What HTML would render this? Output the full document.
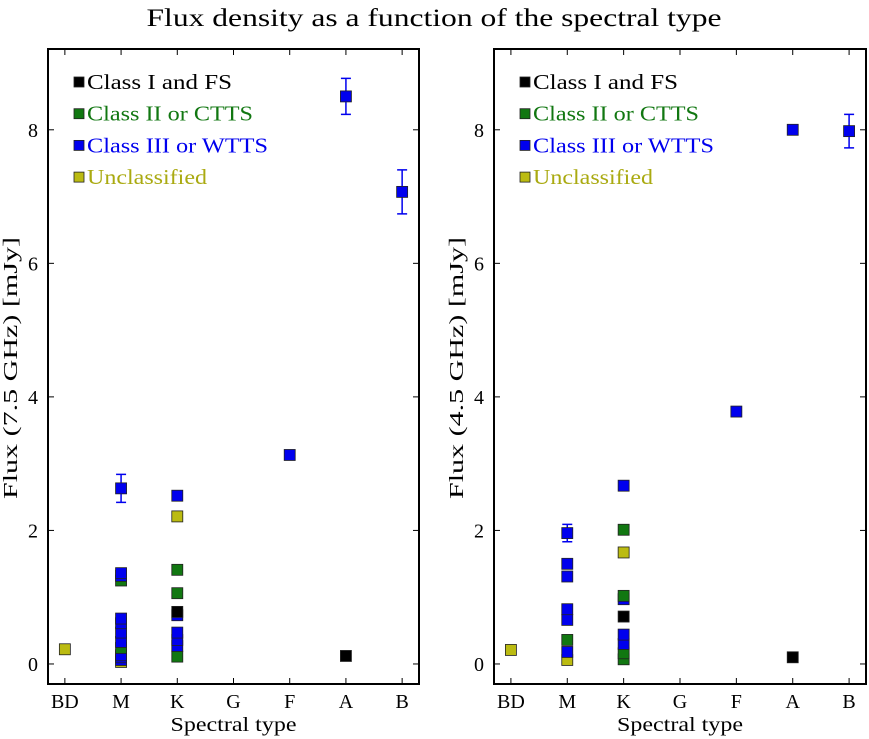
<!DOCTYPE html>
<html><head><meta charset="utf-8"><style>
body{margin:0;background:#fff;}
svg{display:block;font-family:"Liberation Serif",serif;}
</style></head><body>
<svg id="c" width="869" height="739" xmlns="http://www.w3.org/2000/svg">
<text x="434" y="26" font-size="25" text-anchor="middle" textLength="575" lengthAdjust="spacingAndGlyphs">Flux density as a function of the spectral type</text>
</svg>
<script>
const categories = ["BD","M","K","G","F","A","B"];
const yTicks = [0,2,4,6,8];
const classNames = ["Class I and FS","Class II or CTTS","Class III or WTTS","Unclassified"];
const classColors = ["#000000","#117711","#0000ee","#bbbb11"];
// points: [categoryIndex, value, classIndex, error]
const left7 = [
 [0,0.22,3,0],
 [1,0.03,3,0],[1,0.06,2,0],[1,0.10,2,0],[1,0.13,2,0],[1,0.24,1,0],[1,0.33,2,0],[1,0.47,2,0],[1,0.61,2,0],[1,0.68,2,0],
 [1,1.25,1,0],[1,1.32,2,0],[1,1.36,2,0],[1,2.63,2,0.21],
 [2,0.11,1,0],[2,0.27,2,0],[2,0.36,2,0],[2,0.47,2,0],[2,0.73,2,0],[2,0.78,0,0],[2,1.06,1,0],[2,1.41,1,0],[2,2.21,3,0],[2,2.52,2,0],
 [4,3.13,2,0],[5,0.12,0,0],[5,8.5,2,0.27],[6,7.07,2,0.33]
];
const right45 = [
 [0,0.21,3,0],
 [1,0.06,3,0],[1,0.18,2,0],[1,0.36,1,0],[1,0.66,2,0],[1,0.82,2,0],[1,1.31,2,0],[1,1.50,2,0],[1,1.96,2,0.13],
 [2,0.07,1,0],[2,0.16,1,0],[2,0.30,2,0],[2,0.44,2,0],[2,0.71,0,0],[2,0.97,2,0],[2,1.02,1,0],[2,1.67,3,0],[2,2.01,1,0],[2,2.67,2,0],
 [4,3.78,2,0],[5,0.10,0,0],[5,8.0,2,0.06],[6,7.98,2,0.25]
];
const legendLengths = [145,166,181,120];
const svg=document.getElementById('c');
const NS="http://www.w3.org/2000/svg";
function mk(tag,attrs,parent){const e=document.createElementNS(NS,tag);for(const k in attrs)e.setAttribute(k,attrs[k]);(parent||svg).appendChild(e);return e;}
function panel(x0,x1,data,ylabel,pname){
  const y0=49,y1=684;
  const g=mk('g',{});
  
  
  const xs=v=>x0+(v+0.3)/6.6*(x1-x0);
  const ys=v=>y1-(v+0.3)/9.51*(y1-y0);
  categories.forEach((c,i)=>{
    const X=xs(i);
    mk('line',{x1:X,x2:X,y1:y1,y2:y1-6,stroke:'#000','stroke-width':1},g);
    mk('line',{x1:X,x2:X,y1:y0,y2:y0+6,stroke:'#000','stroke-width':1},g);
    const t=mk('text',{x:X,y:708,'font-size':20,'text-anchor':'middle'},g);t.textContent=c;
    
    
  });
  yTicks.forEach(v=>{
    const Y=ys(v);
    mk('line',{x1:x0,x2:x0+6,y1:Y,y2:Y,stroke:'#000','stroke-width':1},g);
    mk('line',{x1:x1,x2:x1-6,y1:Y,y2:Y,stroke:'#000','stroke-width':1},g);
    const t=mk('text',{x:x0-10,y:Y+7,'font-size':20,'text-anchor':'end'},g);t.textContent=v;
    
    
  });
  const xl=mk('text',{x:(x0+x1)/2,y:731,'font-size':20,'text-anchor':'middle',textLength:126,lengthAdjust:'spacingAndGlyphs'},g);xl.textContent='Spectral type';
  
  
  const yl=mk('text',{x:0,y:0,'font-size':20,'text-anchor':'middle',textLength:262,lengthAdjust:'spacingAndGlyphs',transform:`translate(${x0-31},368) rotate(-90)`},g);yl.textContent=ylabel;
  
  
  data.forEach(d=>{
    const X=xs(d[0]),Y=ys(d[1]),col=classColors[d[2]];
    if(d[3]>0){
      const e=mk('path',{d:`M${X},${ys(d[1]+d[3])}V${ys(d[1]-d[3])}M${X-5},${ys(d[1]+d[3])}H${X+5}M${X-5},${ys(d[1]-d[3])}H${X+5}`,stroke:col,'stroke-width':1.5,fill:'none'},g);
      
      
    }
    const r=mk('rect',{x:X-5.5,y:Y-5.5,width:11,height:11,fill:col,stroke:'#222','stroke-width':0.8},g);
    
    
  });
  classNames.forEach((n,i)=>{
    const Y=89+i*31.7;
    const r=mk('rect',{x:x0+26,y:Y-12,width:10,height:10,fill:classColors[i],stroke:'#222','stroke-width':0.8},g);
    
    
    const t=mk('text',{x:x0+39,y:Y,'font-size':21,textLength:legendLengths[i],lengthAdjust:'spacingAndGlyphs',fill:i===3?'#aaaa11':classColors[i]},g);t.textContent=n;
    
    
  });
  const f=mk('rect',{x:x0,y:y0,width:x1-x0,height:y1-y0,fill:'none',stroke:'#000','stroke-width':2},g);
  
  
}
panel(48,419,left7,'Flux (7.5 GHz) [mJy]','left-panel');
panel(494,866,right45,'Flux (4.5 GHz) [mJy]','right-panel');
</script>
</body></html>
